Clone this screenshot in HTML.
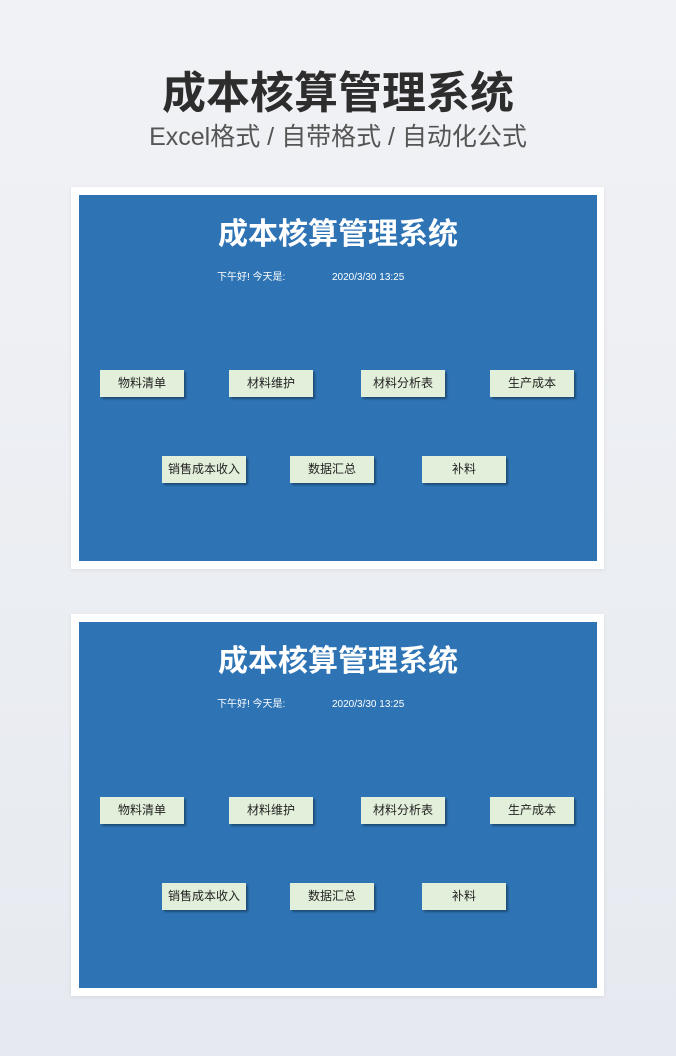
<!DOCTYPE html>
<html><head><meta charset="utf-8"><style>
body{margin:0;width:676px;height:1056px;background:linear-gradient(#f1f2f5,#e6eaf0);font-family:"Liberation Sans","Noto Sans CJK SC",sans-serif;position:relative;overflow:hidden}
.h1{position:absolute;top:64px;left:0;width:676px;text-align:center;font-size:44px;font-weight:bold;color:#2d2d2d;line-height:60px}
.h2{position:absolute;top:120px;left:0;width:676px;text-align:center;font-size:25px;color:#555;line-height:34px}
.frame{position:absolute;left:71px;width:533px;height:382px;background:#fff;box-shadow:0 1px 4px rgba(0,0,0,.08)}
.blue{position:absolute;left:8px;top:8px;width:518px;height:366px;background:#2e74b5}
.t{position:absolute;left:0;top:20px;width:518px;text-align:center;color:#fff;font-size:30px;font-weight:bold;line-height:40px}
.g{position:absolute;top:77px;color:#fff;font-size:10px;line-height:12px}
.b{position:absolute;width:84px;height:27px;background:#e2efda;box-shadow:2px 2px 2px rgba(0,0,0,.35);font-size:12px;line-height:27px;text-align:center;color:#222}
</style></head><body>
<div class="h1">成本核算管理系统</div>
<div class="h2">Excel格式 / 自带格式 / 自动化公式</div>
<div class="frame" style="top:187px"><div class="blue">
<div class="t">成本核算管理系统</div>
<div class="g" style="left:138px">下午好! 今天是:</div><div class="g" style="left:253px">2020/3/30 13:25</div>
<div class="b" style="left:21px;top:175px">物料清单</div><div class="b" style="left:150px;top:175px">材料维护</div><div class="b" style="left:282px;top:175px">材料分析表</div><div class="b" style="left:411px;top:175px">生产成本</div>
<div class="b" style="left:83px;top:261px">销售成本收入</div><div class="b" style="left:211px;top:261px">数据汇总</div><div class="b" style="left:343px;top:261px">补料</div>
</div></div>
<div class="frame" style="top:614px"><div class="blue">
<div class="t">成本核算管理系统</div>
<div class="g" style="left:138px">下午好! 今天是:</div><div class="g" style="left:253px">2020/3/30 13:25</div>
<div class="b" style="left:21px;top:175px">物料清单</div><div class="b" style="left:150px;top:175px">材料维护</div><div class="b" style="left:282px;top:175px">材料分析表</div><div class="b" style="left:411px;top:175px">生产成本</div>
<div class="b" style="left:83px;top:261px">销售成本收入</div><div class="b" style="left:211px;top:261px">数据汇总</div><div class="b" style="left:343px;top:261px">补料</div>
</div></div>
</body></html>
